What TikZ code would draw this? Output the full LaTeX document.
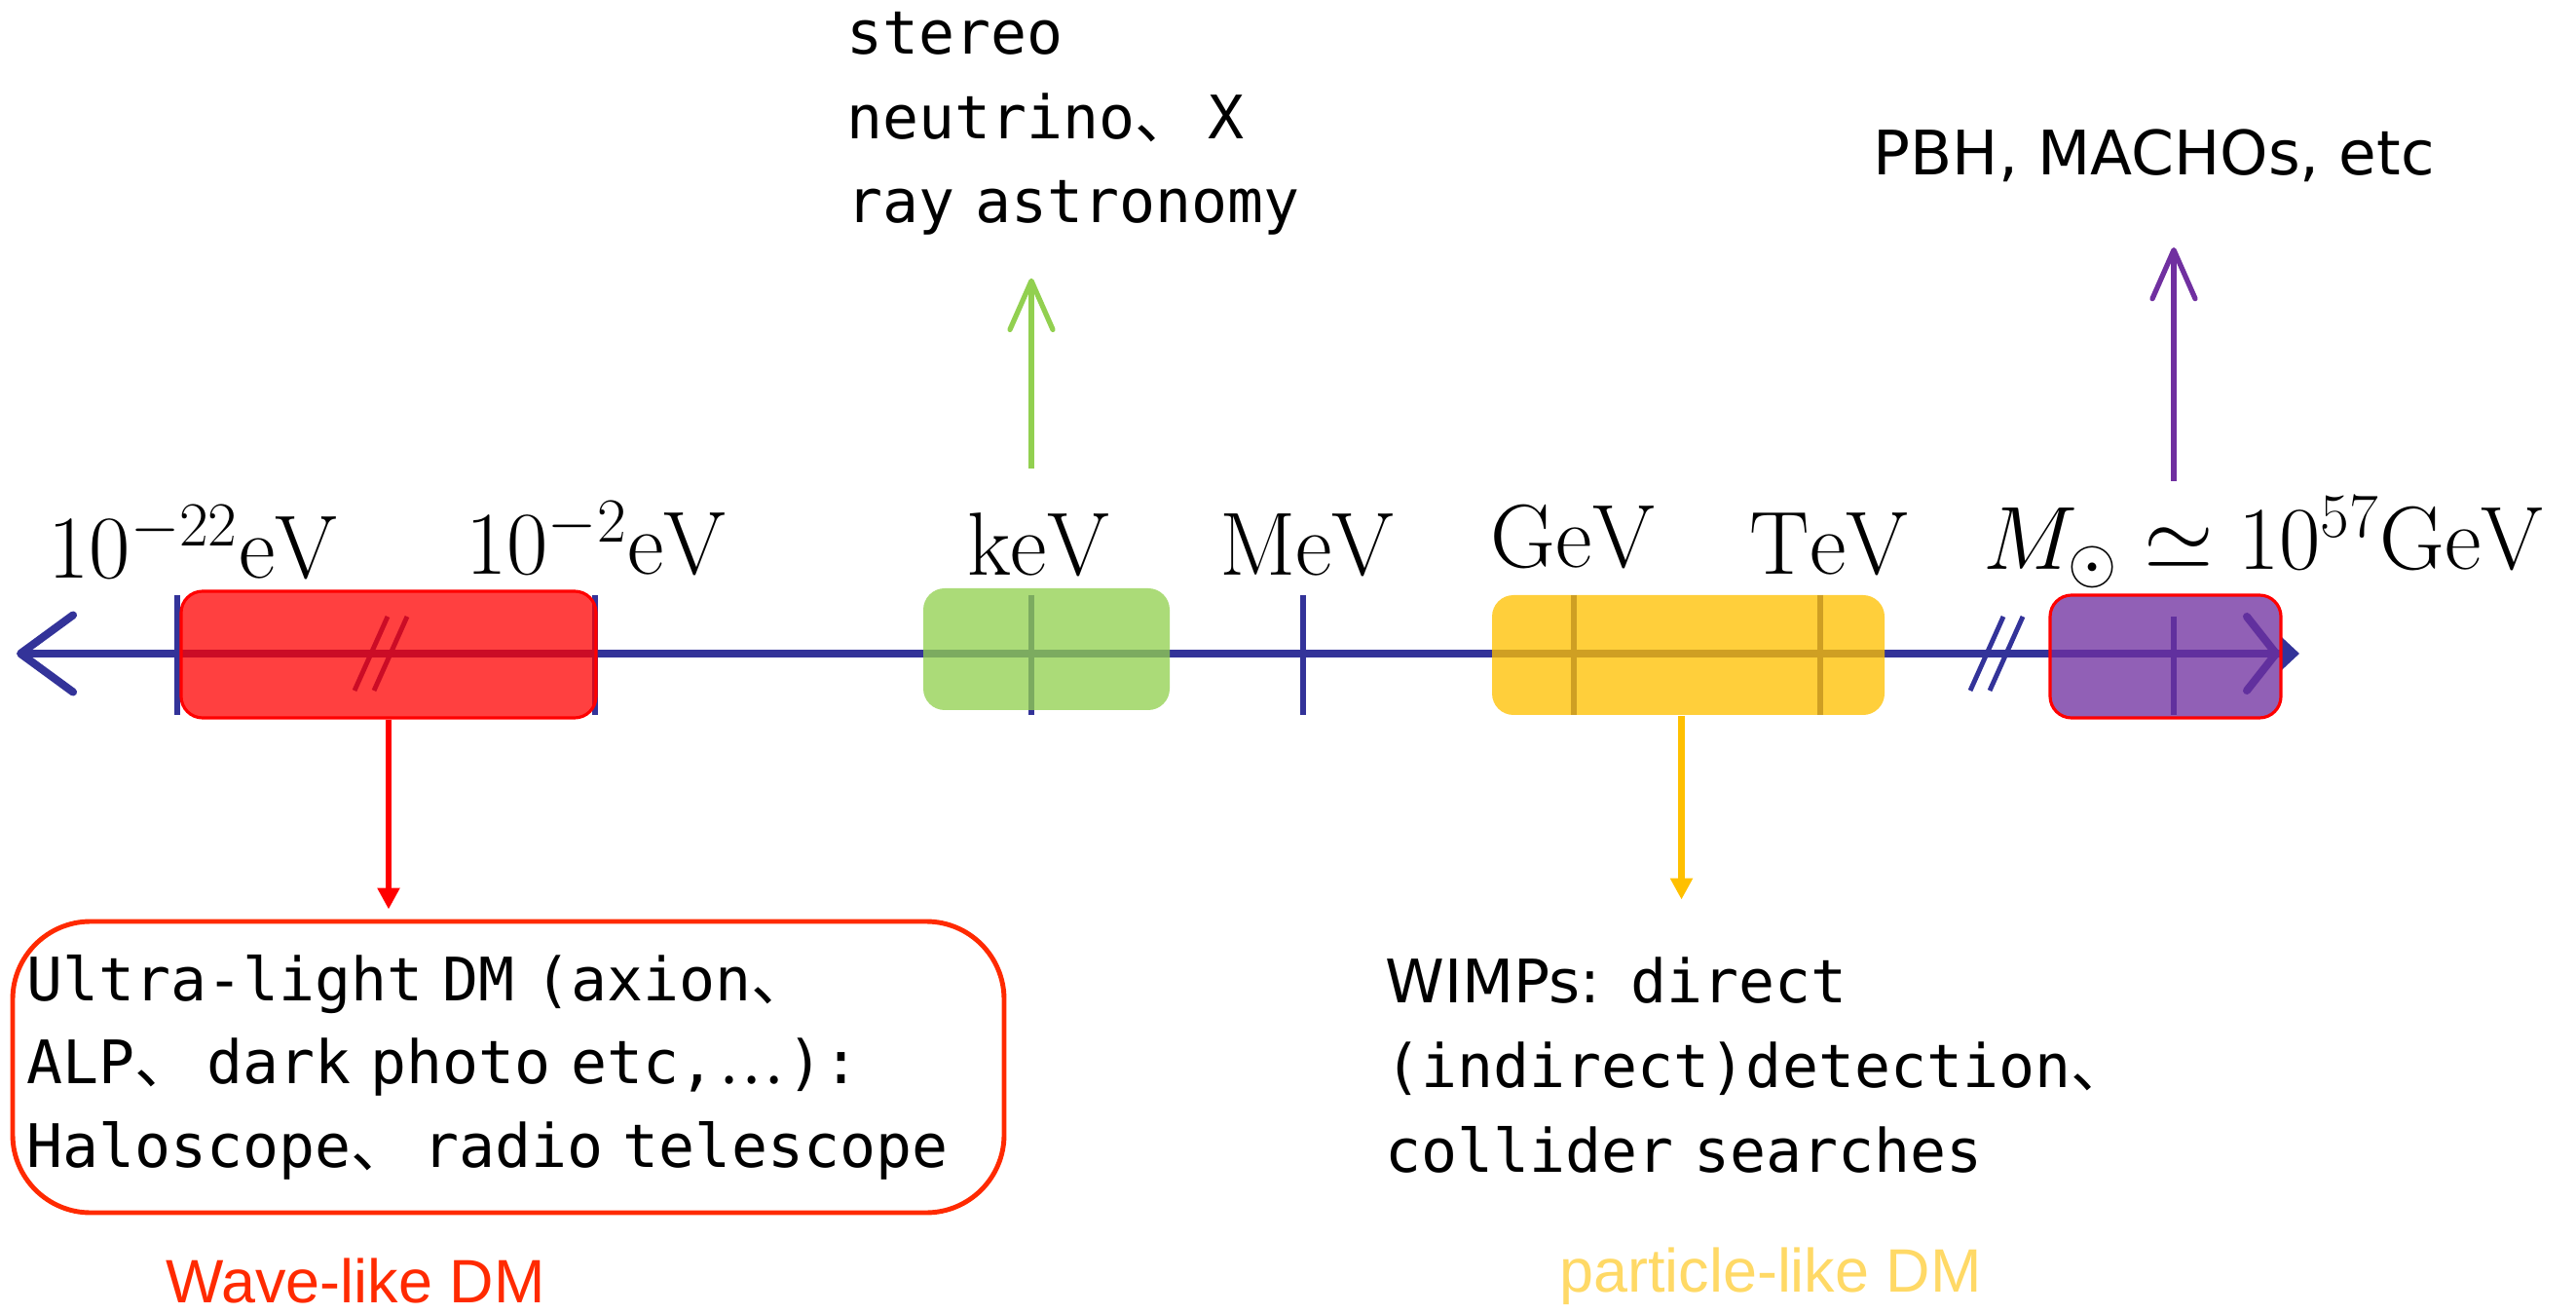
\RequirePackage{fix-cm}
\documentclass[tikz,border=0pt]{standalone}
\usepackage{fontspec}
\usepackage{amsmath, amssymb}
\usetikzlibrary{positioning, arrows.meta, calc}
\newfontfamily\monofont{DejaVu Sans Mono}
\newfontfamily\cjk{Noto Sans CJK SC}
\newfontfamily\tahfont{DejaVu Sans}
\newfontfamily\arialfont{Liberation Sans}
\definecolor{axisblue}{HTML}{333399}
\definecolor{keVgreen}{HTML}{92D050}
\definecolor{gevyellow}{HTML}{FFC000}
\definecolor{solarpurple}{HTML}{7030A0}
\definecolor{waveorange}{HTML}{FF2A00}
\definecolor{partyellow}{HTML}{FFD966}
\newcommand{\dun}{\makebox[1.204em][l]{\cjk 、}}
\newcommand{\cjkdots}{\makebox[1.204em][c]{\cjk …}}
\tikzset{
  axisline/.style={
    draw=axisblue,
    line width=2.3pt,
    {Straight Barb[round,length=0.54cm,width=0.79cm]}-{Straight Barb[round,length=0.3cm,width=0.76cm]Triangle[length=0.2cm,width=0.36cm]}
  },
  tickmark/.style={draw=axisblue, line width=1.5pt},
  breakmark/.style={draw=axisblue, line width=1.4pt},
  rangebox/.style={
    rectangle,
    rounded corners=0.22cm,
    fill opacity=0.77,
    inner sep=0pt
  },
  scalelabel/.style={anchor=base, inner sep=0pt, font=\fontsize{26.2}{30}\selectfont},
  notetext/.style={
    align=left,
    inner sep=0pt,
    font=\fontsize{17.5}{24.3}\monofont
  },
  upbarb/.style={line width=1.5pt, -{Straight Barb[round,length=0.5cm,width=0.44cm]}},
  downtip/.style={line width=1.8pt, -{Triangle[length=0.22cm,width=0.22cm]}}
}

\begin{document}
\begin{tikzpicture}
  \useasboundingbox (0,0) rectangle (26.45,-13.49);
  % mass axis
  \coordinate (axL) at (0.17,-6.71);
  \coordinate (axR) at (23.61,-6.71);
  \coordinate (t22) at (1.82,-6.71);
  \coordinate (t2) at (6.11,-6.71);
  \coordinate (keV) at (10.59,-6.71);
  \coordinate (MeV) at (13.38,-6.71);
  \coordinate (GeV) at (16.16,-6.71);
  \coordinate (TeV) at (18.69,-6.71);
  \coordinate (sun) at (22.32,-6.71);
  \draw[axisline] (axL) -- (axR);
  \foreach \t in {t22,t2,keV,MeV,GeV,TeV}
    \draw[tickmark] ([yshift=0.6cm]\t) -- ([yshift=-0.63cm]\t);
  \draw[tickmark] ([yshift=0.38cm]sun) -- ([yshift=-0.63cm]sun);
  \foreach \x in {3.81,4.01,20.40,20.60}
    \draw[breakmark] ({\x-0.17},-7.09) -- ({\x+0.17},-6.33);

  % mass ranges
  \node[rangebox, fill=red, draw=red, line width=0.9pt, fill opacity=0.75, minimum width=4.26cm, minimum height=1.30cm] (wavebox) at (3.99,-6.72) {};
  \node[rangebox, fill=keVgreen, minimum width=2.53cm, minimum height=1.25cm] (keVbox) at (10.745,-6.665) {};
  \node[rangebox, fill=gevyellow, minimum width=4.03cm, minimum height=1.23cm] (wimpbox) at (17.335,-6.725) {};
  \node[rangebox, fill=solarpurple, draw=red, line width=0.9pt, minimum width=2.37cm, minimum height=1.26cm] (machobox) at (22.235,-6.74) {};

  \node[scalelabel] (l22) at (1.98,-5.94) {$10^{-22}\mathrm{eV}$};
  \node[scalelabel] (l2) at (6.12,-5.90) {$10^{-2}\mathrm{eV}$};
  \node[scalelabel] (lkeV) at (10.66,-5.91) {$\mathrm{keV}$};
  \node[scalelabel] (lMeV) at (13.42,-5.91) {$\mathrm{MeV}$};
  \node[scalelabel] (lGeV) at (16.15,-5.83) {$\mathrm{GeV}$};
  \node[scalelabel] (lTeV) at (18.78,-5.90) {$\mathrm{TeV}$};
  \node[scalelabel] (lsun) at (23.24,-5.85) {$M_\odot\simeq10^{57}\mathrm{GeV}$};

  % detection notes
  \node[notetext, anchor=base west, text width=6cm, font=\fontsize{17.5}{24.5}\monofont] (astro) at (8.69,-0.56)
    {stereo\\neutrino\dun X\\ray astronomy};
  \node[anchor=base west, inner sep=0pt, font=\fontsize{17.9}{20}\tahfont] (pbh) at (19.23,-1.80) {PBH, MACHOs, etc};
  \node[notetext, draw=waveorange, line width=1.4pt, rounded corners=0.8cm, text width=9.9cm, inner xsep=0.14cm, minimum height=2.99cm] (dmbox) at (5.22,-10.955)
    {Ultra-light DM (axion\dun\\ALP\dun dark photo etc,\cjkdots):\\Haloscope\dun radio telescope};
  \node[notetext, anchor=base west, text width=8cm, font=\fontsize{17.5}{24.8}\monofont] (wimps) at (14.22,-10.29)
    {{\tahfont WIMPs:} direct\\(indirect)detection\dun\\collider searches};
  \node[font=\fontsize{17.9}{20}\arialfont, text=waveorange, inner sep=0pt] (wave) at (3.65,-13.15) {Wave-like DM};
  \node[font=\fontsize{17.9}{20}\arialfont, text=partyellow, inner sep=0pt] (particle) at (18.18,-13.10) {particle-like DM};

  \coordinate (keVtail) at (10.59,-4.81);
  \coordinate (suntail) at (22.32,-4.94);
  \draw[upbarb, keVgreen, shorten >=0.44cm] (keVtail) -- (keVtail |- astro.south);
  \draw[upbarb, solarpurple, shorten >=0.66cm] (suntail) -- (suntail |- pbh.south);
  \draw[downtip, red, shorten >=0.1cm] (wavebox.south) -- (wavebox.south |- dmbox.north);
  \draw[downtip, gevyellow, shorten >=0.58cm] ([xshift=-0.07cm]wimpbox.south) -- ([xshift=-0.07cm]wimpbox.south |- wimps.north);
\end{tikzpicture}
\end{document}
